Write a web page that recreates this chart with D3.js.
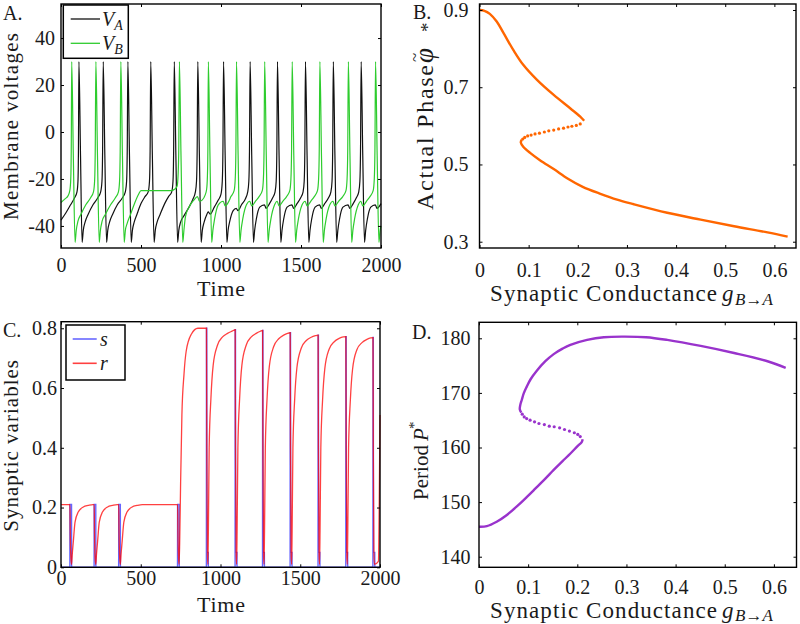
<!DOCTYPE html>
<html><head><meta charset="utf-8">
<script src="https://cdn.jsdelivr.net/npm/d3@7"></script>
<style>
body{margin:0;background:#fff;}
svg text{font-family:"Liberation Serif","Times New Roman",serif;fill:#1a1a1a;}
</style></head><body>
<svg id="chart" width="800" height="624" xmlns="http://www.w3.org/2000/svg"></svg>
<script>
// ---------- Panel A: membrane voltages (keypoints [time, V]) ----------
const VA = [
[0,-37.5],[30,-34.5],[60,-31],[85,-28],[100,-25.5],[106,-21],[109,-8],[112,30],[122,-10],[132,-47],
[139,-42],[150,-38.5],[170,-35],[200,-31],[230,-28],[248,-25.5],[256,-21],[260,-8],[264,30],[274,-10],[285,-47],
[292,-42],[303,-38.5],[323,-35],[352,-31],[384,-28],[402,-25.5],[410,-21],[414,-8],[418,30],[428,-10],[439,-47],
[446,-42],[457,-38.5],[475,-35],[500,-30.5],[525,-27.5],[545,-25.5],[553,-21],[557,-8],[561,30],[571,-10],[582,-47],
[589,-42],[600,-38.5],[620,-35],[648,-30.5],[672,-27.5],[692,-25.5],[700,-21],[704,-8],[708,30],[718,-10],[729,-47],
[736,-42],[747,-38.5],[770,-35.5],[800,-32],[825,-28.5],[840,-25.5],[847,-21],[851,-8],[855,30],[865,-10],[876,-47],
[883,-42],[894,-38.5],[912,-35],[920,-34],[932,-35],[958,-32],[983,-29],[1000,-26.5],[1008,-21],[1012,-8],[1016,30],[1026,-10],[1037,-47],
[1044,-42],[1055,-38],[1076,-33.5],[1095,-32.5],[1106,-33.5],[1128,-31],[1152,-28.5],[1167,-25.5],[1174,-21],[1178,-8],[1182,30],[1192,-10],[1203,-47],
[1210,-42],[1221,-37],[1242,-32],[1271,-31],[1282,-32.5],[1303,-30.5],[1323,-28],[1338,-25.5],[1345,-21],[1349,-8],[1353,30],[1363,-10],[1374,-47],
[1381,-42],[1392,-37],[1413,-32],[1443,-31],[1454,-32.5],[1475,-30.5],[1498,-28],[1513,-25.5],[1520,-21],[1524,-8],[1528,30],[1538,-10],[1549,-47],
[1556,-42],[1567,-37],[1588,-32],[1616,-31],[1627,-32.5],[1648,-30.5],[1672,-28],[1687,-25.5],[1694,-21],[1698,-8],[1702,30],[1712,-10],[1723,-47],
[1730,-42],[1741,-37],[1762,-32],[1794,-31],[1805,-32.5],[1826,-30.5],[1846,-28],[1861,-25.5],[1868,-21],[1872,-8],[1876,30],[1886,-10],[1897,-47],
[1904,-42],[1915,-37],[1936,-32],[1964,-31],[1975,-32.5],[2000,-30.5]
];
const VB = [
[0,-30],[25,-28.5],[45,-27],[55,-25],[61,-20],[64,-8],[67,30],[77,-10],[88,-47],
[95,-42],[106,-38],[125,-35],[155,-31],[185,-28],[203,-25.5],[210,-21],[214,-8],[218,30],[228,-10],[239,-47],
[246,-42],[257,-38],[278,-35],[310,-31],[340,-28],[359,-25.5],[366,-21],[370,-8],[374,30],[384,-10],[395,-47],
[402,-42],[413,-39],[435,-35],[462,-30],[485,-26.5],[500,-25],[600,-25],[690,-25],[712,-24.3],[726,-23],[732,-18],[736,-7],[740,30],[750,-10],[761,-47],
[768,-42],[778,-36],[800,-32],[830,-29],[853,-27.5],[865,-29.5],[882,-29],[900,-27],[910,-24.5],[915,-19],[918,-7],[921,30],[931,-10],[942,-47],
[949,-42],[960,-37],[983,-31],[1014,-29.5],[1026,-31.5],[1049,-29.5],[1062,-27.5],[1082,-25],[1089,-20],[1093,-8],[1097,30],[1107,-10],[1118,-47],
[1125,-42],[1136,-37],[1159,-31],[1180,-29.5],[1192,-31.5],[1215,-29.5],[1238,-27.5],[1258,-25],[1265,-20],[1269,-8],[1273,30],[1283,-10],[1294,-47],
[1301,-42],[1312,-37],[1335,-31],[1351,-29.5],[1363,-31.5],[1386,-29.5],[1410,-27.5],[1430,-25],[1437,-20],[1441,-8],[1445,30],[1455,-10],[1466,-47],
[1473,-42],[1484,-37],[1507,-31],[1526,-29.5],[1538,-31.5],[1561,-29.5],[1583,-27.5],[1603,-25],[1610,-20],[1614,-8],[1618,30],[1628,-10],[1639,-47],
[1646,-42],[1657,-37],[1680,-31],[1700,-29.5],[1712,-31.5],[1735,-29.5],[1761,-27.5],[1781,-25],[1788,-20],[1792,-8],[1796,30],[1806,-10],[1817,-47],
[1824,-42],[1835,-37],[1858,-31],[1874,-29.5],[1886,-31.5],[1909,-29.5],[1931,-27.5],[1951,-25],[1958,-20],[1962,-8],[1966,30],[1976,-10],[1987,-47],[1994,-42],[2000,-40]
];
const timeTicks = [0, 500, 1000, 1500, 2000];
const voltTicks = [-40, -20, 0, 20, 40];

// ---------- Panel C: synaptic variables (keypoints [time, value]) ----------
const S = [
[0,0],[55.5,0],[56,0.21],[66,0.21],[66.5,0],[207.5,0],[208,0.21],[218,0.21],[218.5,0],
[361.5,0],[362,0.21],[372,0.21],[372.5,0],[730.5,0],[731,0.21],[741,0.21],[741.5,0],
[911.5,0],[912,0.80],[914,0.80],[915,0.05],[923,0.05],[923.5,0],
[1091.5,0],[1092,0.795],[1094,0.795],[1095,0.05],[1103,0.05],[1103.5,0],
[1263.5,0],[1264,0.793],[1266,0.793],[1267,0.05],[1275,0.05],[1275.5,0],
[1436.5,0],[1437,0.785],[1439,0.785],[1440,0.05],[1448,0.05],[1448.5,0],
[1611.5,0],[1612,0.777],[1614,0.777],[1615,0.05],[1623,0.05],[1623.5,0],
[1785.5,0],[1786,0.772],[1788,0.772],[1789,0.05],[1797,0.05],[1797.5,0],
[1955.5,0],[1956,0.769],[1958,0.769],[1959,0.05],[1967,0.05],[1967.5,0],[2000,0]
];
const R = [
[0,0.21],[56,0.21],[58,0.12],[62,0.03],[66,0.01],[70,0.04],[77,0.084],[88,0.151],[108,0.185],[140,0.202],[171,0.207],[200,0.21],
[208,0.21],[210,0.12],[214,0.03],[218,0.01],[222,0.04],[229,0.084],[240,0.151],[260,0.185],[292,0.202],[323,0.207],[352,0.21],
[362,0.21],[364,0.12],[368,0.03],[372,0.01],[376,0.04],[383,0.084],[394,0.151],[414,0.185],[446,0.202],[477,0.207],[510,0.21],
[731,0.21],[733,0.12],[737,0.03],[740,0.01],[744,0.08],[750,0.286],[758,0.51],[771,0.645],[785,0.724],[817,0.78],[858,0.80],[912,0.80],
[914,0.4],[918,0.04],[921,0.01],[924,0.12],[929,0.40],[940,0.566],[954,0.676],[981,0.743],[1013,0.771],[1044,0.783],[1075,0.791],[1092,0.795],
[1094,0.4],[1098,0.04],[1101,0.01],[1104,0.12],[1109,0.40],[1120,0.566],[1134,0.676],[1161,0.743],[1193,0.771],[1224,0.783],[1250,0.79],[1264,0.793],
[1266,0.4],[1270,0.04],[1273,0.01],[1276,0.12],[1281,0.40],[1292,0.565],[1306,0.672],[1333,0.738],[1365,0.765],[1396,0.777],[1420,0.783],[1437,0.785],
[1439,0.4],[1443,0.04],[1446,0.01],[1449,0.12],[1454,0.40],[1465,0.562],[1479,0.668],[1506,0.733],[1538,0.759],[1569,0.77],[1595,0.775],[1612,0.777],
[1614,0.4],[1618,0.04],[1621,0.01],[1624,0.12],[1629,0.40],[1640,0.56],[1654,0.665],[1681,0.73],[1713,0.755],[1744,0.766],[1770,0.771],[1786,0.772],
[1788,0.4],[1792,0.04],[1795,0.01],[1798,0.12],[1803,0.40],[1814,0.558],[1828,0.663],[1855,0.728],[1887,0.752],[1918,0.763],[1942,0.768],[1956,0.769],
[1958,0.4],[1962,0.04],[1965,0.01],[1990,0.02],[1995,0.2],[2000,0.51]
];
const synTicks = [0, 0.2, 0.4, 0.6, 0.8];

// ---------- Panel B: actual phase vs conductance ----------
const gB_upper   = [0, 0.01, 0.021, 0.035, 0.049, 0.069, 0.089, 0.117, 0.151, 0.185, 0.205, 0.213];
const phB_upper  = [0.9, 0.898, 0.890, 0.870, 0.840, 0.796, 0.758, 0.719, 0.680, 0.645, 0.624, 0.613];
const gB_unst    = [0.205,0.197,0.188,0.180,0.171,0.161,0.151,0.141,0.132,0.122,0.113,0.105,0.098,0.092,0.088];
const phB_unst   = [0.605,0.601,0.599,0.597,0.594,0.592,0.589,0.587,0.584,0.581,0.579,0.576,0.574,0.570,0.566];
const gB_lower   = [0.086, 0.084, 0.089, 0.103, 0.123, 0.151, 0.180, 0.210, 0.246, 0.280, 0.314, 0.382, 0.450, 0.518, 0.586, 0.627];
const phB_lower  = [0.564, 0.557, 0.546, 0.530, 0.511, 0.488, 0.463, 0.442, 0.424, 0.409, 0.397, 0.375, 0.357, 0.340, 0.324, 0.313];
const phaseTicks = [0.3, 0.5, 0.7, 0.9];
const gTicks = [0, 0.1, 0.2, 0.3, 0.4, 0.5, 0.6];

// ---------- Panel D: period vs conductance ----------
const gD_lower  = [0, 0.016, 0.036, 0.056, 0.077, 0.097, 0.115, 0.135, 0.152, 0.170, 0.186, 0.200, 0.209, 0.211];
const pD_lower  = [145.5, 145.6, 146.4, 147.6, 149.2, 150.9, 152.5, 154.3, 155.9, 157.5, 158.9, 160.2, 161.0, 161.5];
const gD_unst   = [0.206,0.201,0.194,0.184,0.174,0.164,0.153,0.143,0.133,0.122,0.113,0.104,0.097,0.092,0.088];
const pD_unst   = [162.0,162.4,162.7,163.0,163.3,163.6,163.8,163.9,164.2,164.4,164.7,165.0,165.3,165.6,166.1];
const gD_upper  = [0.086, 0.083, 0.084, 0.087, 0.091, 0.097, 0.105, 0.118, 0.135, 0.152, 0.170, 0.186, 0.220, 0.254, 0.295, 0.340, 0.383, 0.451, 0.519, 0.587, 0.624];
const pD_upper  = [166.4, 167.0, 167.8, 168.7, 169.9, 171.1, 172.5, 174.1, 175.8, 177.1, 178.1, 178.8, 179.7, 180.2, 180.3, 180.2, 179.7, 178.6, 177.3, 175.8, 174.6];
const periodTicks = [140, 150, 160, 170, 180];

// ================= drawing =================
const svg = d3.select('#chart');
const FONT = '"Liberation Serif","Times New Roman",serif';

function makePanel(o) {
  const x = d3.scaleLinear().domain(o.xDomain).range([o.left, o.right]);
  const y = d3.scaleLinear().domain(o.yDomain).range([o.bottom, o.top]);
  const g = svg.append('g');
  const data = g.append('g');
  const style = s => {
    s.select('.domain').remove();
    s.attr('font-family', FONT).attr('font-size', 20).attr('color', '#1a1a1a');
    s.selectAll('.tick line').attr('stroke', '#000').attr('stroke-width', 1);
  };
  g.append('g').attr('transform', `translate(0,${o.bottom})`)
    .call(d3.axisBottom(x).tickValues(o.xTicks).tickFormat(o.xFmt).tickSize(-3).tickPadding(o.xPad)).call(style);
  g.append('g').attr('transform', `translate(0,${o.top})`)
    .call(d3.axisTop(x).tickValues(o.xTicks).tickFormat('').tickSize(-3)).call(style);
  g.append('g').attr('transform', `translate(${o.left},0)`)
    .call(d3.axisLeft(y).tickValues(o.yTicks).tickFormat(o.yFmt).tickSize(-3).tickPadding(o.yPad)).call(style);
  g.append('g').attr('transform', `translate(${o.right},0)`)
    .call(d3.axisRight(y).tickValues(o.yTicks).tickFormat('').tickSize(-3)).call(style);
  g.append('rect').attr('x', o.left).attr('y', o.top)
    .attr('width', o.right - o.left).attr('height', o.bottom - o.top)
    .attr('fill', 'none').attr('stroke', '#000').attr('stroke-width', 1.4);
  return { g, data, x, y };
}
const fmtInt = d => String(d);
const fmt1 = d => (d === 0 ? '0' : d.toFixed(1));

// ---- Panel A
const pA = makePanel({ left: 61, right: 381, top: 4, bottom: 248, xDomain: [0, 2000], yDomain: [-49.4, 54.5],
  xTicks: timeTicks, yTicks: voltTicks, xFmt: fmtInt, yFmt: fmtInt, xPad: 9.5, yPad: 6 });
const lineA = d3.line().x(d => pA.x(d[0])).y(d => pA.y(d[1])).curve(d3.curveMonotoneX);
pA.data.append('path').attr('d', lineA(VA)).attr('fill', 'none').attr('stroke', '#111').attr('stroke-width', 1.2);
pA.data.append('path').attr('d', lineA(VB)).attr('fill', 'none').attr('stroke', '#2ecc2e').attr('stroke-width', 1.2);

// ---- Panel C
const pC = makePanel({ left: 61, right: 380, top: 321.7, bottom: 567.3, xDomain: [0, 2000], yDomain: [0, 0.822],
  xTicks: timeTicks, yTicks: synTicks, xFmt: fmtInt, yFmt: fmt1, xPad: 3, yPad: 4 });
const lineCs = d3.line().x(d => pC.x(d[0])).y(d => pC.y(d[1]));
const lineCr = d3.line().x(d => pC.x(d[0])).y(d => pC.y(d[1])).curve(d3.curveMonotoneX);
pC.data.append('path').attr('d', lineCs(S)).attr('fill', 'none').attr('stroke', '#0000ff').attr('stroke-opacity', 0.6).attr('stroke-width', 1.4);
pC.data.append('path').attr('d', lineCr(R)).attr('fill', 'none').attr('stroke', '#ff0000').attr('stroke-opacity', 0.75).attr('stroke-width', 1.3);

// ---- Panel B
const pB = makePanel({ left: 479.5, right: 796, top: 4, bottom: 248, xDomain: [0, 0.644], yDomain: [0.2837, 0.9155],
  xTicks: gTicks, yTicks: phaseTicks, xFmt: fmt1, yFmt: fmt1, xPad: 15, yPad: 11 });
const ORANGE = '#ff6600';
const curveB = d3.line().x(d => pB.x(d[0])).y(d => pB.y(d[1])).curve(d3.curveCatmullRom.alpha(0.5));
pB.data.append('path').attr('d', curveB(d3.zip(gB_upper, phB_upper))).attr('fill', 'none').attr('stroke', ORANGE).attr('stroke-width', 2.4);
pB.data.append('path').attr('d', curveB(d3.zip(gB_lower, phB_lower))).attr('fill', 'none').attr('stroke', ORANGE).attr('stroke-width', 2.4);
pB.data.selectAll('circle').data(d3.zip(gB_unst, phB_unst)).join('circle')
  .attr('cx', d => pB.x(d[0])).attr('cy', d => pB.y(d[1])).attr('r', 1.6).attr('fill', ORANGE);

// ---- Panel D
const pD = makePanel({ left: 479, right: 796.5, top: 322.3, bottom: 567.3, xDomain: [0, 0.646], yDomain: [138.06, 182.93],
  xTicks: gTicks, yTicks: periodTicks, xFmt: fmt1, yFmt: fmtInt, xPad: 13, yPad: 8.5 });
const PURPLE = '#9933cc';
const curveD = d3.line().x(d => pD.x(d[0])).y(d => pD.y(d[1])).curve(d3.curveCatmullRom.alpha(0.5));
pD.data.append('path').attr('d', curveD(d3.zip(gD_lower, pD_lower))).attr('fill', 'none').attr('stroke', PURPLE).attr('stroke-width', 2.4);
pD.data.append('path').attr('d', curveD(d3.zip(gD_upper, pD_upper))).attr('fill', 'none').attr('stroke', PURPLE).attr('stroke-width', 2.4);
pD.data.selectAll('circle').data(d3.zip(gD_unst, pD_unst)).join('circle')
  .attr('cx', d => pD.x(d[0])).attr('cy', d => pD.y(d[1])).attr('r', 1.6).attr('fill', PURPLE);

// ---- Legends
function legend(x, y, w, h, items) {
  const g = svg.append('g');
  g.append('rect').attr('x', x).attr('y', y).attr('width', w).attr('height', h)
    .attr('fill', '#fff').attr('stroke', '#000').attr('stroke-width', 1.5);
  items.forEach(it => {
    g.append('line').attr('x1', it.x1).attr('x2', it.x2).attr('y1', it.y).attr('y2', it.y)
      .attr('stroke', it.color).attr('stroke-opacity', it.op || 1).attr('stroke-width', it.w || 1.3);
    const t = g.append('text').attr('x', it.tx).attr('y', it.y + 7).attr('font-size', 20).attr('font-style', 'italic');
    t.append('tspan').text(it.main);
    if (it.sub) t.append('tspan').attr('font-size', 14).attr('dy', 4).text(it.sub);
  });
}
legend(63.3, 5, 65, 53.3, [
  { x1: 70.7, x2: 100, y: 19, color: '#111', tx: 102, main: 'V', sub: 'A' },
  { x1: 70.7, x2: 100, y: 43.3, color: '#2ecc2e', tx: 102, main: 'V', sub: 'B' }
]);
legend(66, 325, 59, 55, [
  { x1: 72.7, x2: 96.7, y: 339, color: '#0000ff', op: 0.6, w: 1.6, tx: 100, main: 's' },
  { x1: 72.7, x2: 96.7, y: 363.3, color: '#ff0000', op: 0.75, w: 1.6, tx: 100, main: 'r' }
]);

// ---- Titles and panel letters
function txt(x, y, s, size, opts = {}) {
  const t = svg.append('text').attr('x', x).attr('y', y).attr('font-size', size).text(s);
  if (opts.anchor) t.attr('text-anchor', opts.anchor);
  if (opts.italic) t.attr('font-style', 'italic');
  if (opts.len) t.attr('textLength', opts.len).attr('lengthAdjust', 'spacing');
  if (opts.rot) t.attr('transform', `rotate(-90,${x},${y})`);
  return t;
}
txt(3, 20, 'A.', 20); txt(413, 18.5, 'B.', 20); txt(3, 337, 'C.', 20); txt(412, 338.5, 'D.', 20);

// A titles
txt(17.5, 220, 'Membrane voltages', 21, { rot: true, len: 187 });
txt(221, 296, 'Time', 22, { anchor: 'middle', len: 48 });
// C titles
txt(18.5, 531.7, 'Synaptic variables', 21, { rot: true, len: 171.7 });
txt(221, 611.5, 'Time', 22, { anchor: 'middle', len: 48 });
// B titles
txt(433, 210, 'Actual Phase', 24, { rot: true, len: 145 });
txt(433, 63, '\u03C6', 27, { rot: true, italic: true });
txt(419.5, 62, '~', 17, { rot: true });
txt(434, 32, '*', 19, { rot: true });
function gLabel(yBase) {
  txt(490, yBase, 'Synaptic Conductance', 23, { len: 227 });
  txt(722, yBase, 'g', 23, { italic: true });
  const sub = svg.append('text').attr('x', 735).attr('y', yBase + 3.5).attr('font-size', 17);
  sub.append('tspan').attr('font-style', 'italic').text('B');
  sub.append('tspan').text('\u2192');
  sub.append('tspan').attr('font-style', 'italic').text('A');
}
gLabel(301);
// D titles
txt(428, 500, 'Period', 21, { rot: true, len: 55 });
txt(428, 441, 'P', 21, { rot: true, italic: true });
txt(419, 429, '*', 15, { rot: true });
gLabel(617.5);
</script></body></html>
